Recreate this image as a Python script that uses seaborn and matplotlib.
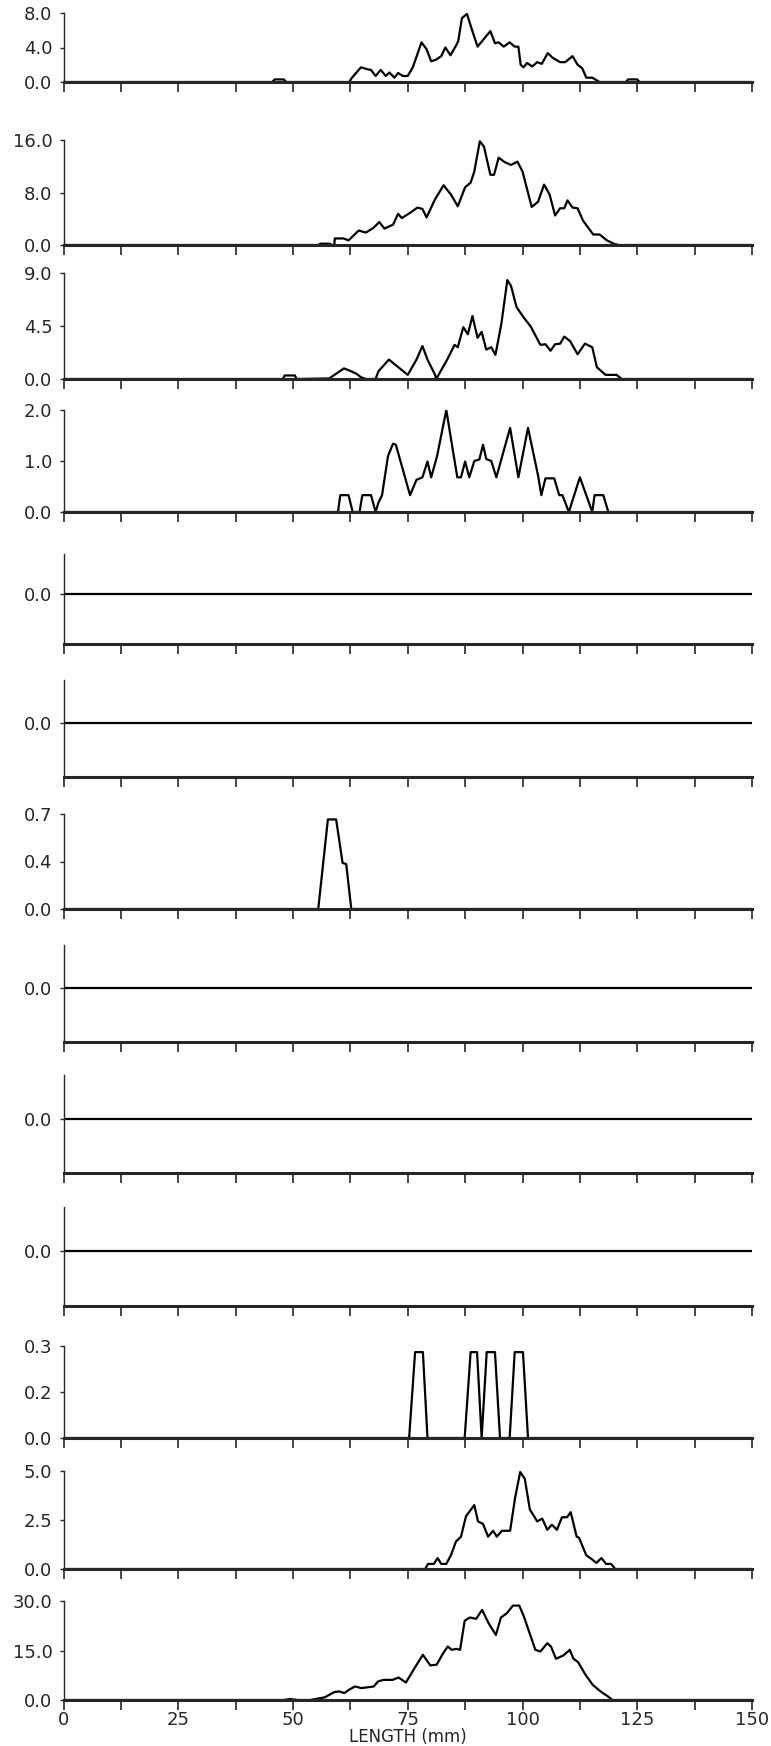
import numpy as np
import pandas as pd
import matplotlib.pyplot as plt
import seaborn as sns

sns.set_style("ticks")
plt.rcParams["font.family"] = ["DejaVu Sans"]

# length (mm), value pairs
p1 = [(0, 0), (45.5, 0), (46, 0.3), (48, 0.3), (48.5, 0), (62.3, 0), (62.7, 0.4), (64.8, 1.7),
      (66.4, 1.45), (67, 1.4), (68, 0.7), (69.1, 1.4), (70.2, 0.7), (71, 1.1), (72.1, 0.5),
      (72.9, 1.05), (73.9, 0.7), (75, 0.7), (76.1, 1.7), (78, 4.6), (79.1, 3.8), (80.1, 2.4),
      (81.2, 2.6), (82.3, 3.0), (83.2, 4.0), (84.3, 3.1), (85.5, 4.2), (86, 4.75), (86.8, 7.4),
      (87.9, 7.9), (88.9, 6.2), (90.2, 4.1), (91.6, 5.0), (93, 5.9), (94, 4.5), (94.8, 4.6),
      (95.9, 4.1), (97.2, 4.6), (98.3, 4.1), (99.1, 4.1), (99.6, 2.0), (100.2, 1.7), (101, 2.2),
      (102.1, 1.8), (103.2, 2.3), (104.2, 2.1), (105.5, 3.35), (106.6, 2.8), (108.2, 2.3),
      (109.3, 2.3), (110.9, 3.0), (112, 2.0), (113, 1.6), (113.9, 0.5), (115.2, 0.5), (116.8, 0),
      (122.5, 0), (123, 0.3), (125, 0.3), (125.5, 0), (150, 0)]
p2 = [(0, 0), (55.5, 0), (56, 0.2), (58, 0.2), (58.5, 0), (59, 0), (59.1, 1.0), (61, 1.0),
      (62.1, 0.7), (64.3, 2.2), (65.9, 1.9), (67.5, 2.6), (68.8, 3.5), (69.9, 2.5), (71.8, 3.1),
      (72.9, 4.75), (73.7, 4.1), (75.5, 4.9), (77.1, 5.7), (78.2, 5.5), (79.1, 4.2), (80.9, 6.9),
      (82.8, 9.1), (84.4, 7.7), (85.9, 5.9), (87.5, 8.8), (88.7, 9.5), (89.5, 11.2), (90.7, 15.8),
      (91.6, 15.0), (93, 10.7), (93.8, 10.7), (94.8, 13.3), (96.2, 12.6), (97.5, 12.2),
      (98.9, 12.7), (100, 11.2), (102, 5.8), (103.4, 6.6), (104.7, 9.2), (105.9, 7.7),
      (107.1, 4.5), (108.2, 5.6), (109.1, 5.6), (109.8, 6.8), (110.9, 5.7), (112, 5.6),
      (113.2, 3.7), (115.4, 1.6), (116.8, 1.6), (118.4, 0.7), (120, 0.15), (121, 0), (150, 0)]
p3 = [(0, 0), (47.8, 0), (48.2, 0.3), (50.4, 0.3), (50.8, 0), (57.9, 0.05), (61.1, 0.9),
      (62.1, 0.75), (63.8, 0.45), (64.8, 0.15), (65.9, 0), (68, 0), (68.6, 0.65), (70.9, 1.65),
      (75, 0.35), (76.1, 1.1), (76.9, 1.65), (78.2, 2.8), (79.3, 1.65), (80.9, 0.4), (81.2, 0),
      (83.6, 1.65), (85.2, 2.9), (85.9, 2.7), (87.1, 4.4), (88.1, 3.8), (89.1, 5.35), (90.2, 3.5),
      (91.1, 4.0), (92.1, 2.5), (93.2, 2.7), (94.1, 2.05), (95.4, 4.7), (96.7, 8.4), (97.5, 7.9),
      (98.7, 6.1), (100.4, 5.15), (101.8, 4.45), (103.9, 2.9), (105, 2.95), (106.1, 2.4),
      (107.1, 2.95), (108.2, 3.0), (109.1, 3.6), (110.4, 3.2), (112, 2.1), (113.6, 3.0),
      (115.2, 2.7), (116.2, 1.0), (118.1, 0.35), (120.5, 0.35), (121.6, 0), (150, 0)]
p4 = [(0, 0), (59.8, 0), (60.3, 0.33), (62.1, 0.33), (63, 0), (64.5, 0), (65.1, 0.33),
      (67, 0.33), (68, 0), (68.6, 0.18), (69.4, 0.33), (70.7, 1.1), (71.8, 1.34), (72.4, 1.32),
      (75.5, 0.33), (76.9, 0.63), (78.2, 0.68), (79.3, 0.99), (80.1, 0.68), (81.4, 1.1),
      (83.4, 2.0), (84.9, 1.17), (85.8, 0.68), (86.6, 0.68), (87.5, 0.99), (88.4, 0.68),
      (89.5, 1.0), (90.6, 1.03), (91.4, 1.32), (92.1, 1.04), (93.2, 1.0), (94.3, 0.68),
      (97.3, 1.65), (99.1, 0.68), (101.2, 1.65), (103.4, 0.71), (104.1, 0.33), (105, 0.66),
      (106.9, 0.66), (108, 0.33), (108.7, 0.33), (110.1, 0), (112.5, 0.68), (115.2, 0),
      (115.7, 0.33), (117.6, 0.33), (118.7, 0), (150, 0)]
flat = [(0, 0), (150, 0)]
p7 = [(0, 0), (55.5, 0), (57.6, 0.66), (59.4, 0.66), (60.8, 0.34), (61.6, 0.33), (62.7, 0),
      (150, 0)]
p11 = [(0, 0), (75.3, 0), (76.6, 0.28), (78.3, 0.28), (79.3, 0), (87.4, 0), (88.7, 0.28),
       (90.1, 0.28), (91.1, 0), (92.2, 0.28), (94.0, 0.28), (95.1, 0), (97.2, 0), (98.3, 0.28),
       (100.1, 0.28), (101.2, 0), (150, 0)]
p12 = [(0, 0), (78.8, 0), (79.4, 0.26), (80.7, 0.26), (81.5, 0.56), (82.3, 0.26), (83.4, 0.26),
       (84.4, 0.7), (85.5, 1.4), (86.6, 1.65), (87.7, 2.7), (89.5, 3.26), (90.3, 2.43),
       (91.4, 2.3), (92.5, 1.65), (93.6, 1.95), (94.4, 1.65), (95.5, 1.95), (97.3, 1.95),
       (98.4, 3.65), (99.5, 4.95), (100.5, 4.6), (101.6, 3.04), (103.2, 2.43), (104.3, 2.57),
       (105.4, 2.0), (106.4, 2.26), (107.5, 2.0), (108.6, 2.64), (109.7, 2.64), (110.5, 2.9),
       (111.8, 1.65), (112.3, 1.6), (113.9, 0.7), (115, 0.52), (116.1, 0.31), (117.2, 0.56),
       (118.2, 0.26), (119.3, 0.26), (120.2, 0), (150, 0)]
p13 = [(0, 0), (48, 0), (49.4, 0.3), (51, 0), (53.7, 0), (56.9, 0.8), (59, 2.4), (60.1, 2.6),
       (61.2, 2.1), (62.2, 3.1), (63.5, 4.1), (64.9, 3.6), (67.6, 4.1), (68.5, 5.6), (69.7, 6.1),
       (71.7, 6.1), (73, 6.8), (74.6, 5.3), (76.5, 9.7), (78.3, 13.7), (79.9, 10.5), (81.3, 10.7),
       (82.6, 13.9), (83.7, 16.2), (84.6, 15.2), (85.6, 15.5), (86.4, 15.2), (87.4, 24),
       (88.5, 25), (89.9, 24.6), (91.2, 27.3), (92.6, 23.3), (94.2, 19.7), (95.3, 25),
       (96.6, 26.3), (97.9, 28.6), (99.3, 28.6), (100.3, 25.3), (102.8, 15.2), (103.9, 14.7),
       (105.4, 17.2), (106.2, 16.2), (107.3, 12.5), (108.9, 13.5), (110.3, 15.2), (111.1, 12.5),
       (112.1, 11.5), (113.7, 7.7), (115.3, 4.6), (117, 2.6), (118.6, 1.1), (119.6, 0), (150, 0)]

panels = [p1, p2, p3, p4, flat, flat, p7, flat, flat, flat, p11, p12, p13]
y_tops = [8.0, 16.0, 9.0, 2.0, None, None, 0.7, None, None, None, 0.3, 5.0, 30.0]
y_tick_labels = [["0.0", "4.0", "8.0"], ["0.0", "8.0", "16.0"], ["0.0", "4.5", "9.0"],
                 ["0.0", "1.0", "2.0"], ["0.0"], ["0.0"], ["0.0", "0.4", "0.7"], ["0.0"],
                 ["0.0"], ["0.0"], ["0.0", "0.2", "0.3"], ["0.0", "2.5", "5.0"],
                 ["0.0", "15.0", "30.0"]]
x_ticks = np.arange(0, 151, 12.5)
x_tick_labels = ["0", "", "25", "", "50", "", "75", "", "100", "", "125", "", "150"]

# panel top / bottom in pixels
boxes = [(13, 82), (140, 245), (273, 379), (410, 512), (554, 644), (680, 777), (814, 909),
         (945, 1042), (1075, 1173), (1207, 1306), (1346, 1438), (1471, 1569), (1601, 1700)]

W, H = 771, 1746
fig = plt.figure(figsize=(W / 100, H / 100), dpi=100)
left, right = 63.5, 752

for i, (pts, top, labels, (t, b)) in enumerate(zip(panels, y_tops, y_tick_labels, boxes)):
    ax = fig.add_axes([left / W, 1 - b / H, (right - left) / W, (b - t) / H])
    df = pd.DataFrame(pts, columns=["length", "value"])
    sns.lineplot(data=df, x="length", y="value", ax=ax, color="black", lw=1.6,
                 estimator=None, sort=False)
    ax.set_xlim(0, 150)
    if top is None:
        ax.set_ylim(-1.25, 1.0)
        ax.set_yticks([0])
    else:
        ax.set_ylim(0, top)
        ax.set_yticks([0, top / 2, top])
    ax.set_yticklabels(labels, fontsize=13)
    ax.set_xticks(x_ticks)
    if i == len(panels) - 1:
        ax.set_xticklabels(x_tick_labels, fontsize=13)
        ax.set_xlabel("LENGTH (mm)", fontsize=12, labelpad=-1)
    else:
        ax.set_xticklabels([])
        ax.set_xlabel("")
    ax.set_ylabel("")
    sns.despine(ax=ax)
    ax.spines["bottom"].set_linewidth(2.2)
    ax.spines["left"].set_linewidth(1.0)
    ax.tick_params(axis="x", direction="out", length=7, width=1.2, pad=1)
    ax.tick_params(axis="y", direction="out", length=3, width=1.0, pad=5)

fig.savefig("out.png", dpi=100)
